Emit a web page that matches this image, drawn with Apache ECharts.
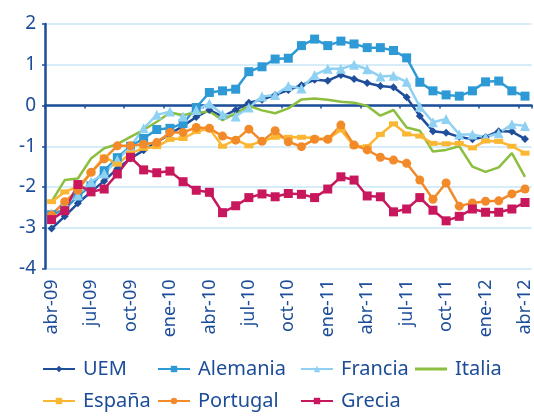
<!DOCTYPE html>
<html>
<head>
<meta charset="utf-8">
<script src="https://cdn.jsdelivr.net/npm/echarts@6/dist/echarts.min.js"></script>
<style>
  html, body { margin: 0; padding: 0; background: #fff; }
  #chart { width: 534px; height: 416px; }
</style>
</head>
<body>
<div id="chart"></div>
<script>
var months = [
  "abr-09", "may-09", "jun-09", "jul-09", "ago-09", "sep-09", "oct-09", "nov-09", "dic-09",
  "ene-10", "feb-10", "mar-10", "abr-10", "may-10", "jun-10", "jul-10", "ago-10", "sep-10",
  "oct-10", "nov-10", "dic-10", "ene-11", "feb-11", "mar-11", "abr-11", "may-11", "jun-11",
  "jul-11", "ago-11", "sep-11", "oct-11", "nov-11", "dic-11", "ene-12", "feb-12", "mar-12",
  "abr-12"
];
var yTicks = [-4, 2, 1]; // min, max, interval

var uem = [-3.02, -2.72, -2.40, -2.12, -1.85, -1.55, -1.30, -1.10, -0.90, -0.70, -0.50, -0.28, -0.11,
  -0.27, -0.11, 0.07, 0.14, 0.26, 0.38, 0.50, 0.63, 0.61, 0.75, 0.65, 0.55, 0.48, 0.45, 0.20,
  -0.26, -0.63, -0.67, -0.77, -0.83, -0.77, -0.63, -0.64, -0.82];
var alemania = [-2.68, -2.55, -2.22, -1.97, -1.60, -1.28, -1.00, -0.81, -0.59, -0.56, -0.44, -0.05,
  0.32, 0.36, 0.40, 0.83, 0.95, 1.14, 1.16, 1.47, 1.63, 1.47, 1.58, 1.51, 1.42, 1.42, 1.35, 1.17,
  0.57, 0.36, 0.26, 0.23, 0.36, 0.58, 0.60, 0.36, 0.23];
var francia = [-2.65, -2.40, -2.20, -1.87, -1.67, -1.34, -1.01, -0.56, -0.23, -0.15, -0.27, -0.11,
  0.05, -0.22, -0.27, -0.05, 0.22, 0.26, 0.48, 0.42, 0.75, 0.90, 0.90, 1.00, 0.89, 0.71, 0.73, 0.58,
  -0.03, -0.41, -0.33, -0.71, -0.71, -0.78, -0.68, -0.46, -0.50];
var italia = [-2.36, -1.83, -1.79, -1.30, -1.05, -0.95, -0.77, -0.60, -0.40, -0.18, -0.23, -0.19,
  -0.14, -0.36, -0.19, -0.01, -0.12, -0.19, -0.07, 0.15, 0.17, 0.14, 0.09, 0.07, -0.01, -0.25, -0.11,
  -0.54, -0.62, -1.13, -1.09, -1.00, -1.50, -1.63, -1.52, -1.17, -1.75];
var espana = [-2.36, -2.12, -1.99, -1.65, -1.26, -1.44, -1.17, -1.05, -1.01, -0.83, -0.81, -0.64,
  -0.57, -1.00, -0.84, -0.99, -0.87, -0.78, -0.78, -0.78, -0.80, -0.83, -0.60, -0.99, -1.01, -0.71,
  -0.45, -0.70, -0.75, -0.93, -0.94, -0.93, -1.04, -0.87, -0.88, -1.00, -1.17];
var portugal = [-2.69, -2.36, -2.08, -1.64, -1.31, -0.99, -0.99, -0.95, -0.91, -0.66, -0.66, -0.54,
  -0.56, -0.75, -0.85, -0.58, -0.88, -0.62, -0.89, -1.01, -0.83, -0.83, -0.48, -0.97, -1.09, -1.27,
  -1.34, -1.42, -1.83, -2.30, -1.90, -2.47, -2.39, -2.35, -2.34, -2.17, -2.05];
var grecia = [-2.80, -2.58, -1.94, -2.12, -2.05, -1.68, -1.27, -1.58, -1.65, -1.61, -1.87, -2.08,
  -2.13, -2.63, -2.46, -2.26, -2.17, -2.24, -2.16, -2.18, -2.26, -2.05, -1.75, -1.83, -2.22, -2.24,
  -2.61, -2.54, -2.26, -2.57, -2.83, -2.72, -2.54, -2.62, -2.62, -2.54, -2.38];

var dark = "#1d4d98";
var font = "Noto Sans";

var seriesDefs = [
  { name: "UEM", data: uem, color: "#1f4e9b", symbol: "diamond", size: 8 },
  { name: "Alemania", data: alemania, color: "#2e9ad5", symbol: "rect", size: 9 },
  { name: "Francia", data: francia, color: "#8fd1f3", symbol: "triangle", size: 10 },
  { name: "Italia", data: italia, color: "#8cbf3f", symbol: "none", size: 0 },
  { name: "España", data: espana, color: "#fbb734", symbol: "rect", size: [9, 5] },
  { name: "Portugal", data: portugal, color: "#f28a2a", symbol: "circle", size: 9 },
  { name: "Grecia", data: grecia, color: "#c8175d", symbol: "rect", size: 9 }
];
// legend slots: [left, top]
var legendPos = [[42, 359], [157, 359], [300, 359], [415, 359], [42, 391], [157, 391], [300, 391]];

var chart = echarts.init(document.getElementById("chart"));

var option = {
  animation: false,
  textStyle: { fontFamily: font },
  grid: { left: 45, right: 1, top: 24, bottom: 147.5, containLabel: false },
  legend: seriesDefs.map(function (s, i) {
    var item = { name: s.name };
    // plain line icon for series without markers
    if (s.symbol === "none") item.icon = "path://M0,0 L32,0 L32,3 L0,3 Z";
    return {
      data: [item],
      left: legendPos[i][0],
      top: legendPos[i][1],
      padding: 0,
      itemWidth: 32,
      itemHeight: 8,
      textStyle: { color: dark, fontSize: 20, fontFamily: font, padding: [0, 0, 0, 3] }
    };
  }),
  xAxis: [
    {
      type: "category",
      data: months,
      boundaryGap: true,
      axisLine: { onZero: true, lineStyle: { color: dark, width: 2.5 } },
      axisTick: { show: true, interval: 2, length: 3, lineStyle: { color: dark, width: 1.5 } },
      axisLabel: { show: false }
    },
    {
      type: "category",
      data: months,
      boundaryGap: true,
      position: "bottom",
      axisLine: { show: false, onZero: false },
      axisTick: { show: false },
      axisLabel: { interval: 2, rotate: 90, margin: 11, color: dark, fontSize: 18, fontFamily: font }
    }
  ],
  yAxis: {
    type: "value",
    min: yTicks[0],
    max: yTicks[1],
    interval: yTicks[2],
    axisLine: { show: true, lineStyle: { color: dark, width: 2.5 } },
    axisTick: { show: true, length: 3, lineStyle: { color: dark, width: 1.5 } },
    axisLabel: { color: dark, fontSize: 19, margin: 9, fontFamily: font },
    splitLine: { lineStyle: { color: "#c8e6f6", width: 1.5 } }
  },
  series: seriesDefs.map(function (s) {
    return {
      name: s.name,
      type: "line",
      data: s.data,
      symbol: s.symbol,
      symbolSize: s.size,
      showSymbol: s.symbol !== "none",
      showAllSymbol: true,
      color: s.color,
      lineStyle: { color: s.color, width: 2.5 },
      itemStyle: { color: s.color }
    };
  })
};

chart.setOption(option);
</script>
</body>
</html>
